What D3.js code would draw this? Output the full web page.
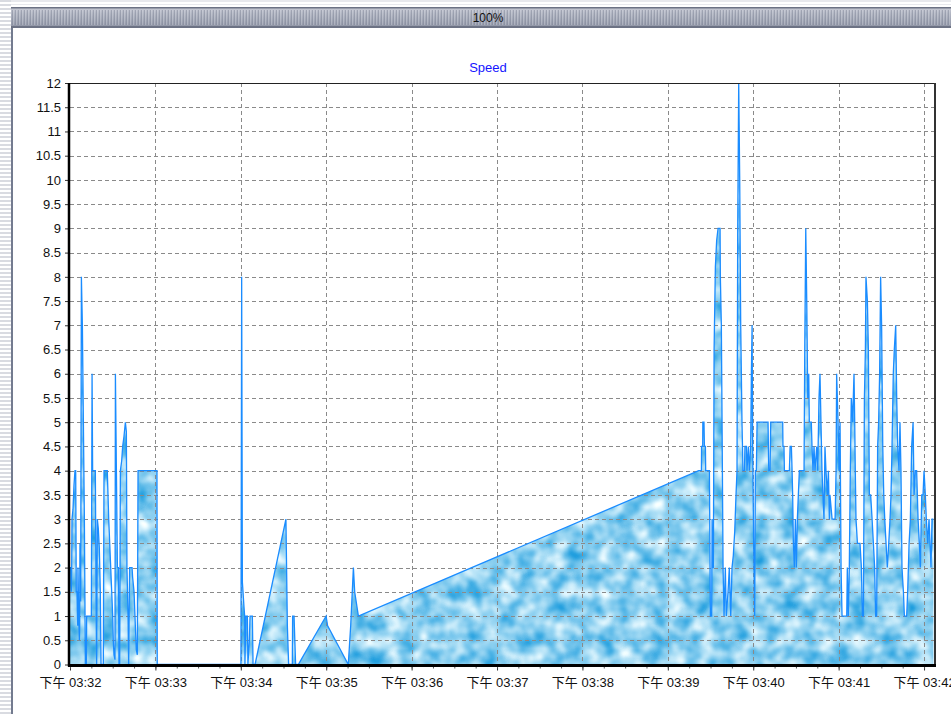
<!DOCTYPE html>
<html><head><meta charset="utf-8">
<script src="https://cdn.jsdelivr.net/npm/d3@7"></script>
<style>
html,body{margin:0;padding:0;background:#fff;overflow:hidden}
svg{display:block}
text{font-family:"Liberation Sans",Arial,"Noto Sans CJK TC",sans-serif}
</style></head><body>
<svg id="chart" width="951" height="714"></svg>
<script>
// ---------- data ----------
const chartTitle = "Speed";
const zoomLabel = "100%";
const ampmLabel = "下午";
const startClock = [15, 32, 0];          // 下午 03:32:00
const axisEndSeconds = 607.7;            // right edge of the time axis
const sampleSeconds = [
 0,0.5,0.9,1.2,1.4,2.1,2.8,3.5,4.0,4.4,4.9,5.4,5.6,6.1,6.6,6.8,7.0,7.5,8.0,8.7,9.4,10.1,10.8,11.5,11.7,15.0,15.5,15.9,17.8,18.3,18.7,19.2,19.9,20.6,21.3,21.8,23.4,23.9,26.2,26.7,27.2,27.9,28.6,29.3,30.0,30.4,30.9,31.6,31.9,32.6,33.3,34.0,34.4,34.9,35.4,36.3,37.0,37.9,38.9,39.6,40.0,40.8,41.2,41.9,43.6,44.0,45.0,45.9,46.6,47.3,47.8,61.1,61.3,
 120.1,120.6,121.1,122.2,122.7,122.9,123.6,124.6,125.0,126.0,126.5,128.1,128.6,130.0,151.7,152.7,153.6,156.2,156.4,157.4,158.5,160.4,179.9,181.0,195.5,197.2,199.1,200.0,202.6,
 441.7,443.6,443.7,444.5,444.6,445.4,445.7,446.4,446.6,449.2,449.9,450.8,451.1,451.5,452.0,452.5,453.4,454.3,455.3,456.7,456.9,457.6,458.1,458.8,459.5,460.4,461.1,462.3,463.2,464.2,465.1,466.0,467.0,467.9,468.6,469.1,469.8,470.5,471.2,472.1,472.8,473.8,474.2,475.2,475.6,476.6,477.3,478.2,478.7,479.2,479.6,480.3,481.0,481.5,482.2,482.7,490.4,490.9,491.8,492.3,
 500.7,500.9,501.6,501.9,505.4,505.9,506.8,507.3,507.7,508.2,508.9,509.6,510.3,511.0,511.7,512.4,515.7,516.2,516.9,517.6,518.3,519.0,519.4,520.8,521.3,522.0,522.7,523.4,524.6,525.3,526.2,526.9,527.6,528.3,529.0,529.7,530.4,531.1,532.1,532.8,533.5,533.9,535.4,537.5,538.2,538.6,539.6,540.3,541.0,541.7,542.4,545.7,546.1,546.8,547.5,548.2,548.9,549.9,
 550.3,550.8,551.3,551.7,552.2,553.2,555.0,556.0,556.7,557.4,558.1,558.8,559.2,560.2,560.9,561.6,562.5,563.5,564.4,565.3,566.0,566.7,567.4,568.1,568.8,569.5,570.2,571.0,571.7,572.4,573.3,574.2,575.2,576.1,576.8,577.5,578.4,579.1,580.1,580.8,581.5,582.4,583.1,583.8,584.5,585.5,586.2,587.8,588.5,589.5,590.4,591.3,592.3,593.0,593.9,594.8,595.8,596.7,597.4,598.4,599.3,600.0,600.9,601.6,602.6,603.5,604.2,604.9,605.6,606.6
];
const speedValues = [
 2,2,1.5,2,3,3.2,3.7,4,4,1.5,1.5,0.8,2,1,0.5,0.8,2.5,1.3,8,7,5,3,0,0,1,1,6,4,4,1.5,0,3,2.8,2.4,1.5,0,0,4,4,3.5,3,2.5,2,1.5,1,0.5,0.2,0.1,6,4,2,2,0,0,4,4.2,4.5,4.7,5,4.8,2,1,0,2,2,1.8,1.5,0.8,0.3,0.2,4,4,0,
 0,8,1.7,1.2,1,0,1,1,0,0.5,1,1,0,0,3,0.8,0,0,1,1,0,0,1,0.8,0,0.8,2,1.5,1,
 4,4,4.5,4.5,5,5,4.5,4.5,4,4,1,1,3,2,2,6.5,8.2,8.75,9,9,8,7,5,2,1,2,1,1.5,2,1,2,2.25,2.75,3.5,4,9,12,10,7,5,4,4,4.5,4.5,4,4.5,4,4.5,6,7,4.5,2.5,1,4,4,5,5,4,4,5,
 5,4.5,4.5,4,4,4.5,4.5,4,3.5,2.5,2,3,2,3,3.5,4,4,6.5,9,7.5,5.5,6,5,5,4.5,4,4.5,4,4.5,4,5.5,6,5,4,3.5,3,4.5,4,3.5,4,3,3.5,3,3,4,6,5,4,5,2,1,1,2,1,2,4,5.5,5,
 5.5,6,5,4,3,2.5,2.5,2,1,1,5.5,6.5,8,7.5,6.5,3.5,3.5,3,2.5,2,1,1,4.5,5,6,8,7,4.5,3.5,3,2.5,2,2.5,3,3.5,4.5,6,6.5,7,5.5,4.5,4,5,4,2,1.5,1,1,1.5,2.5,3,4.5,5,3.5,4,4,3,2.5,2,3.5,3.5,4,3.5,3,2.5,3,2.5,2,3,3
];
const yTickValues = [0,0.5,1,1.5,2,2.5,3,3.5,4,4.5,5,5.5,6,6.5,7,7.5,8,8.5,9,9.5,10,10.5,11,11.5,12];
const yMax = 12;

// ---------- setup ----------
const W = 951, H = 714;
const plot = {left: 70, right: 935, top: 83, bottom: 664.5};
const svg = d3.select("#chart");
const defs = svg.append("defs");

const base = new Date(2000, 0, 1, startClock[0], startClock[1], startClock[2]);
const toDate = s => new Date(base.getTime() + s * 1000);
const data = sampleSeconds.map((s, i) => ({t: toDate(s), v: speedValues[i]}));

const x = d3.scaleTime().domain([base, toDate(axisEndSeconds)]).range([plot.left, plot.right]);
const y = d3.scaleLinear().domain([0, yMax]).range([plot.bottom, plot.top]);

svg.append("rect").attr("width", W).attr("height", H).attr("fill", "#fff");

// left striped strip
const stripe = defs.append("pattern").attr("id", "hstripe").attr("patternUnits", "userSpaceOnUse")
  .attr("width", 12).attr("height", 4);
stripe.append("rect").attr("width", 12).attr("height", 4).attr("fill", "#ffffff");
stripe.append("rect").attr("y", 0).attr("width", 12).attr("height", 2).attr("fill", "#d9dbe1");
svg.append("rect").attr("x", 0).attr("y", 0).attr("width", 11).attr("height", H).attr("fill", "url(#hstripe)");
svg.append("rect").attr("x", 0).attr("y", 0).attr("width", W).attr("height", 5).attr("fill", "url(#hstripe)").attr("opacity", 0.6);
svg.append("rect").attr("x", 11).attr("y", 7).attr("width", 2).attr("height", H - 7).attr("fill", "#737b8f");

// top bar
const barGrad = defs.append("linearGradient").attr("id", "barGrad").attr("x1", 0).attr("y1", 0).attr("x2", 0).attr("y2", 1);
barGrad.append("stop").attr("offset", "0%").attr("stop-color", "#c9ccd6");
barGrad.append("stop").attr("offset", "30%").attr("stop-color", "#b2b6c3");
barGrad.append("stop").attr("offset", "70%").attr("stop-color", "#9ea3b2");
barGrad.append("stop").attr("offset", "100%").attr("stop-color", "#8d92a3");
const ridge = defs.append("pattern").attr("id", "ridge").attr("patternUnits", "userSpaceOnUse")
  .attr("width", 3).attr("height", 20);
ridge.append("rect").attr("x", 0).attr("width", 1).attr("height", 20).attr("fill", "#7f8596").attr("opacity", 0.45);
ridge.append("rect").attr("x", 1).attr("width", 1).attr("height", 20).attr("fill", "#e0e3ea").attr("opacity", 0.3);
svg.append("rect").attr("x", 11).attr("y", 7).attr("width", W - 11).attr("height", 21).attr("fill", "url(#barGrad)");
svg.append("rect").attr("x", 11).attr("y", 10).attr("width", W - 11).attr("height", 15).attr("fill", "url(#ridge)");
svg.append("rect").attr("x", 11).attr("y", 7).attr("width", W - 11).attr("height", 1.5).attr("fill", "#6c7284");
svg.append("rect").attr("x", 11).attr("y", 26).attr("width", W - 11).attr("height", 2).attr("fill", "#6c7284");
svg.append("text").attr("x", 488).attr("y", 22).attr("text-anchor", "middle")
  .attr("font-size", 12).attr("fill", "#111").text(zoomLabel);

// cloud texture filter
const filt = defs.append("filter").attr("id", "clouds").attr("filterUnits", "userSpaceOnUse")
  .attr("x", plot.left).attr("y", plot.top).attr("width", plot.right - plot.left).attr("height", plot.bottom - plot.top + 2)
  .attr("color-interpolation-filters", "sRGB");
filt.append("feTurbulence").attr("type", "fractalNoise").attr("baseFrequency", "0.06").attr("numOctaves", 2)
  .attr("seed", 7).attr("result", "noise");
filt.append("feColorMatrix").attr("in", "noise").attr("type", "matrix")
  .attr("values", "-1.176 0 0 0 1.137  -0.539 0 0 0 1.083  -0.196 0 0 0 1.039  0 0 0 0 1").attr("result", "col");
filt.append("feComposite").attr("in", "col").attr("in2", "SourceGraphic").attr("operator", "in");

// area
const area = d3.area().x(d => x(d.t)).y0(y(0)).y1(d => y(d.v));
svg.append("path").datum(data).attr("d", area).attr("fill", "#8fd0ef").attr("filter", "url(#clouds)");

// grid
const gridG = svg.append("g").attr("stroke", "#8a8a8a").attr("stroke-width", 1).attr("stroke-dasharray", "4,3");
gridG.selectAll("line.h").data(yTickValues.filter(v => v > 0 && v < yMax)).enter().append("line")
  .attr("x1", plot.left).attr("x2", plot.right)
  .attr("y1", d => Math.round(y(d)) + 0.5).attr("y2", d => Math.round(y(d)) + 0.5);
const minuteTicks = x.ticks(d3.timeMinute.every(1));
gridG.selectAll("line.v").data(minuteTicks.filter(d => x(d) > plot.left + 2)).enter().append("line")
  .attr("y1", plot.top).attr("y2", plot.bottom)
  .attr("x1", d => Math.round(x(d)) + 0.5).attr("x2", d => Math.round(x(d)) + 0.5);

// line
const line = d3.line().x(d => x(d.t)).y(d => y(d.v));
svg.append("path").datum(data).attr("d", line).attr("fill", "none")
  .attr("stroke", "#1a8cff").attr("stroke-width", 1.3).attr("stroke-linejoin", "miter");

// frame
svg.append("line").attr("x1", plot.left).attr("x2", plot.right).attr("y1", plot.top + 0.5).attr("y2", plot.top + 0.5)
  .attr("stroke", "#222").attr("stroke-width", 1);
svg.append("line").attr("x1", plot.right).attr("x2", plot.right).attr("y1", plot.top).attr("y2", plot.bottom + 2)
  .attr("stroke", "#333").attr("stroke-width", 2);

// y axis
const yAxis = d3.axisLeft(y).tickValues(yTickValues).tickSize(5).tickSizeOuter(0).tickPadding(4)
  .tickFormat(d => String(d));
const yg = svg.append("g").attr("transform", `translate(${plot.left},0)`).call(yAxis);
yg.select(".domain").remove();
yg.selectAll(".tick line").attr("stroke", "#333");
yg.selectAll("text").attr("font-size", 13).attr("fill", "#111")
  .attr("font-family", "'Liberation Sans', Arial, sans-serif");
const yMinor = d3.range(0, yMax + 0.001, 0.1).map(v => Math.round(v * 10) / 10)
  .filter(v => Math.abs(v * 2 - Math.round(v * 2)) > 1e-6);
svg.append("g").attr("transform", `translate(${plot.left},0)`)
  .call(d3.axisLeft(y).tickValues(yMinor).tickSize(2).tickFormat(""))
  .call(g => g.select(".domain").remove())
  .selectAll(".tick line").attr("stroke", "#555");

// x axis
const xAxis = d3.axisBottom(x).ticks(d3.timeMinute.every(1)).tickSize(5).tickSizeOuter(0).tickPadding(7)
  .tickFormat(d => ampmLabel + " " + d3.timeFormat("%I:%M")(d));
const xg = svg.append("g").attr("transform", `translate(0,${plot.bottom + 1})`).call(xAxis);
xg.select(".domain").remove();
xg.selectAll(".tick line").attr("stroke", "#333");
xg.selectAll("text").attr("font-size", 13).attr("fill", "#111");
svg.append("g").attr("transform", `translate(0,${plot.bottom + 1})`)
  .call(d3.axisBottom(x).ticks(d3.timeSecond.every(15)).tickSize(3).tickFormat(""))
  .call(g => g.select(".domain").remove())
  .selectAll(".tick line").attr("stroke", "#555");

// thick axis lines
svg.append("line").attr("x1", plot.left - 1).attr("x2", plot.left - 1).attr("y1", plot.top).attr("y2", plot.bottom + 2)
  .attr("stroke", "#000").attr("stroke-width", 2.5);
svg.append("line").attr("x1", plot.left - 2).attr("x2", plot.right + 1).attr("y1", plot.bottom + 1).attr("y2", plot.bottom + 1)
  .attr("stroke", "#000").attr("stroke-width", 3);

// title
svg.append("text").attr("x", 488).attr("y", 72).attr("text-anchor", "middle")
  .attr("font-size", 13).attr("fill", "#1414ff").text(chartTitle);
</script>
</body></html>
